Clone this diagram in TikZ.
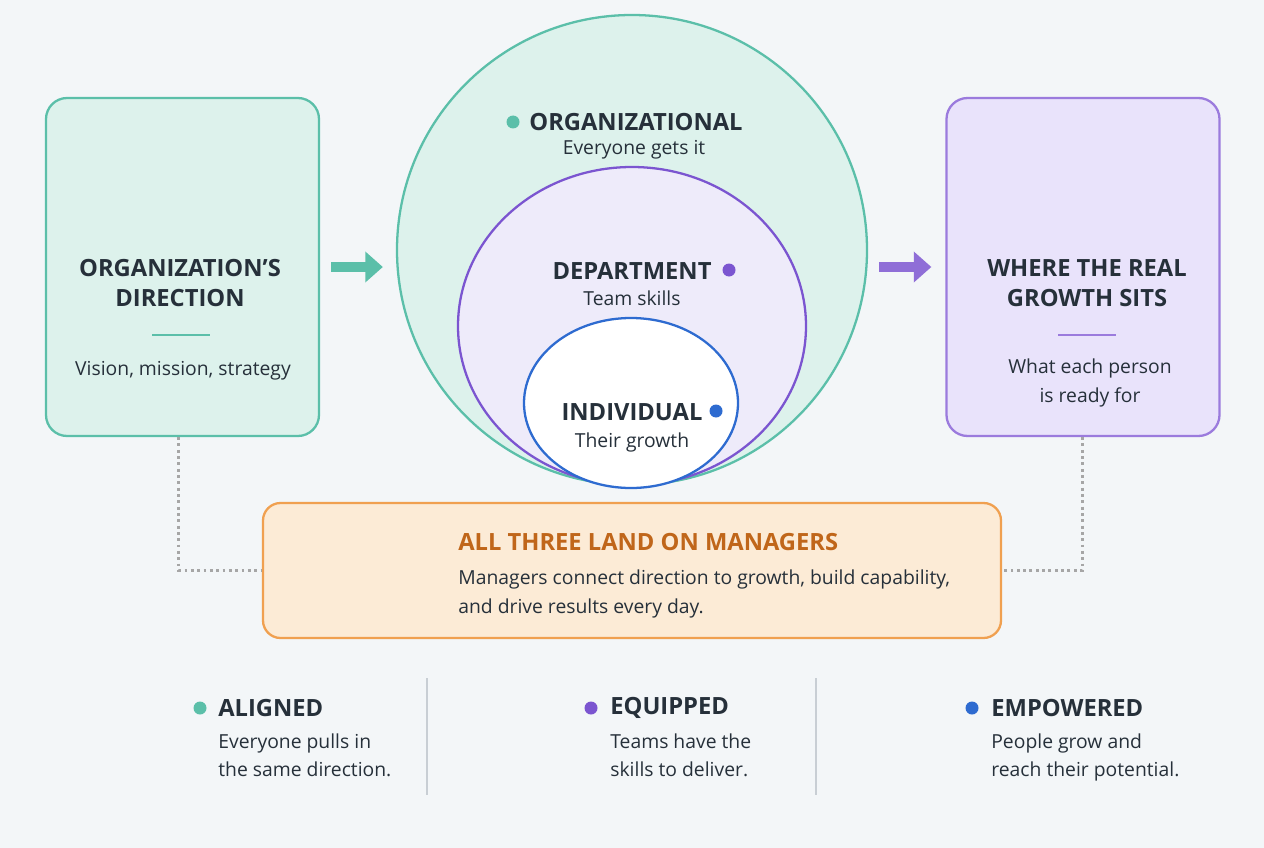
\documentclass[tikz,border=0pt]{standalone}
\usepackage{fontspec}
\setmainfont{Open Sans}
\usetikzlibrary{positioning,arrows.meta}
\definecolor{bgGrey}{HTML}{F3F6F8}
\definecolor{ink}{HTML}{26303A}
\definecolor{tealLine}{HTML}{5BBFA9}
\definecolor{tealFill}{HTML}{DDF2EC}
\definecolor{purpleLine}{HTML}{7B55D0}
\definecolor{purpleFill}{HTML}{EEEBFA}
\definecolor{lilacFill}{HTML}{E9E3FB}
\definecolor{lilacLine}{HTML}{9B7BDD}
\definecolor{blueLine}{HTML}{2E6BD0}
\definecolor{orangeLine}{HTML}{F0A050}
\definecolor{orangeFill}{HTML}{FCEBD6}
\definecolor{orangeText}{HTML}{C0661A}
\definecolor{sepGrey}{HTML}{C8CED4}
\begin{document}
\begin{tikzpicture}[x=0.02cm, y=-0.02cm, >=Triangle]
            % Set primary styles
            \tikzset{
                sideBox/.style={
                        draw,
                        rectangle,
                        rounded corners=12pt,
                        line width=1.3pt,
                        minimum width=273*0.02cm,
                        minimum height=338*0.02cm
                    }
            }
            \tikzset{
                headText/.style={
                        font=\bfseries\fontsize{13.5}{17}\selectfont,
                        text=ink,
                        align=center
                    }
            }
            \tikzset{
                bodyText/.style={
                        font=\fontsize{11}{16}\selectfont,
                        text=ink,
                        align=center
                    }
            }
            \tikzset{
                dot/.style={
                        circle,
                        inner sep=0pt,
                        minimum size=13*0.02cm
                    }
            }
            \tikzset{
                blockArrow/.style={
                        line width=6pt,
                        -{Triangle[length=10pt,width=17pt]}
                    }
            }
            \tikzstyle{dottedLink} = [line width=1.6pt, dotted, color=gray!70]
            % Background
            \fill[bgGrey] (0,0) rectangle (1264,848);
            % Side boxes
            \node[sideBox, draw=tealLine, fill=tealFill](orgBox) at (182.5,267){};
            \node[sideBox, draw=lilacLine, fill=lilacFill](growthBox) at (1083,267){};
            \node[headText](orgTitle) at (180,283){ORGANIZATION’S\\DIRECTION};
            \draw[tealLine, line width=0.8pt] (152,335) -- (210,335);
            \node[bodyText](orgSub) at (183,371){Vision, mission, strategy};
            \node[headText](growthTitle) at (1087,283){WHERE THE REAL\\GROWTH SITS};
            \draw[lilacLine, line width=0.8pt] (1058,335) -- (1116,335);
            \node[bodyText](growthSub) at (1090,383){What each person\\is ready for};
            % Nested circles
            \node[draw=tealLine, fill=tealFill, line width=1.3pt, circle, minimum size=470*0.02cm](orgCircle) at (632,250){};
            \draw[purpleLine, fill=purpleFill, line width=1.3pt] (632,326) ellipse [x radius=174, y radius=159];
            \draw[blueLine, fill=white, line width=1.3pt] (631,403) ellipse [x radius=107, y radius=85];
            \node[dot, fill=tealLine](orgDot) at (513,122){};
            \node[headText](orgLevel) at (636,122){ORGANIZATIONAL};
            \node[bodyText](orgLevelSub) at (634,150){Everyone gets it};
            \node[headText](deptLevel) at (632,271){DEPARTMENT};
            \node[dot, fill=purpleLine](deptDot) at (729,270){};
            \node[bodyText](deptLevelSub) at (632,298){Team skills};
            \node[headText](indLevel) at (632,412){INDIVIDUAL};
            \node[dot, fill=blueLine](indDot) at (716,411){};
            \node[bodyText](indLevelSub) at (632,442){Their growth};
            % Managers box
            \node[draw=orangeLine, fill=orangeFill, line width=1.3pt, rounded corners=10pt, minimum width=738*0.02cm, minimum height=135*0.02cm](mgrBox) at (632,570.5){};
            \node[headText, text=orangeText, anchor=west, inner sep=0pt](mgrTitle) at (458,542){ALL THREE LAND ON MANAGERS};
            \node[bodyText, anchor=west, align=left, inner sep=0pt](mgrSub) at (458,594){Managers connect direction to growth, build capability,\\and drive results every day.};
            % Draw arrows
            \draw[blockArrow, tealLine, shorten <=11*0.02cm, shorten >=13*0.02cm](orgBox.east) -- (orgCircle.west |- orgBox.east);
            \draw[blockArrow, purpleLine!85, shorten <=11*0.02cm, shorten >=14*0.02cm](orgCircle.east |- growthBox.west) -- (growthBox.west);
            \draw[dottedLink](orgBox.south west) ++(134,0) |- (mgrBox.west);
            \draw[dottedLink](growthBox.south west) ++(137,0) |- (mgrBox.east);
            % Outcomes
            \draw[sepGrey, line width=0.8pt] (427,678) -- (427,795);
            \draw[sepGrey, line width=0.8pt] (816,678) -- (816,795);
            \node[dot, fill=tealLine](alignDot) at (200,708){};
            \node[headText, anchor=west, inner sep=0pt](alignHead) at (218,708){ALIGNED};
            \node[bodyText, anchor=north west, align=left, inner sep=0pt](alignSub) at (218,733){Everyone pulls in\\the same direction.};
            \node[dot, fill=purpleLine](equipDot) at (591,708){};
            \node[headText, anchor=west, inner sep=0pt](equipHead) at (610,708){EQUIPPED};
            \node[bodyText, anchor=north west, align=left, inner sep=0pt](equipSub) at (610,733){Teams have the\\skills to deliver.};
            \node[dot, fill=blueLine](empDot) at (972,708){};
            \node[headText, anchor=west, inner sep=0pt](empHead) at (991,708){EMPOWERED};
            \node[bodyText, anchor=north west, align=left, inner sep=0pt](empSub) at (991,733){People grow and\\reach their potential.};
\end{tikzpicture}
\end{document}
